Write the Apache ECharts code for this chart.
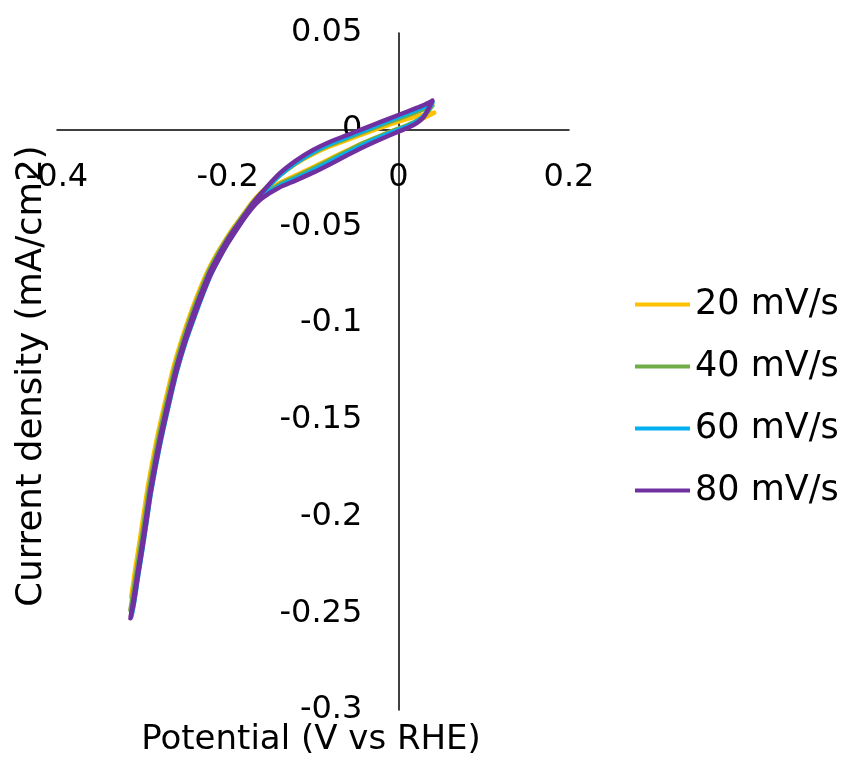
<!DOCTYPE html>
<html>
<head>
<meta charset="utf-8">
<script src="https://cdn.jsdelivr.net/npm/echarts@6/dist/echarts.min.js"></script>
<style>
html,body{margin:0;padding:0;background:#fff;}
#chart{width:841px;height:760px;}
</style>
</head>
<body>
<div id="chart"></div>
<script>
const seriesNames = ['20 mV/s', '40 mV/s', '60 mV/s', '80 mV/s'];
const seriesColors = ['#FFC000', '#70AD47', '#00B0F0', '#7030A0'];
const xTitle = 'Potential (V vs RHE)';
const yTitle = 'Current density (mA/cm2)';

// [potential (V), current density (mA/cm2)] — cathodic sweep then anodic return
const cv20 = [
  [0.042, 0.0088], [0.030, 0.0060], [0.020, 0.0038], [0.010, 0.0020], [0.000, 0.0004],
  [-0.020, -0.0030], [-0.040, -0.0066], [-0.060, -0.0107], [-0.080, -0.0150], [-0.100, -0.0194],
  [-0.120, -0.0236], [-0.140, -0.0278], [-0.161, -0.0340], [-0.172, -0.0385], [-0.182, -0.0440],
  [-0.1925, -0.0505], [-0.2025, -0.0575], [-0.213, -0.0652], [-0.223, -0.0738], [-0.2335, -0.0845],
  [-0.2435, -0.0962], [-0.2535, -0.1088], [-0.2635, -0.1238], [-0.2735, -0.1423], [-0.2835, -0.1623],
  [-0.2935, -0.1858], [-0.2985, -0.2006], [-0.3035, -0.2151], [-0.3085, -0.2288], [-0.313, -0.2417],
  [-0.3085, -0.2276], [-0.3035, -0.2137], [-0.2985, -0.1990], [-0.2935, -0.1845], [-0.2835, -0.1610],
  [-0.2735, -0.1412], [-0.2635, -0.1228], [-0.2535, -0.1080], [-0.2435, -0.0950], [-0.2335, -0.0834],
  [-0.223, -0.0728], [-0.213, -0.0645], [-0.2025, -0.0568], [-0.1925, -0.0502], [-0.182, -0.0440],
  [-0.172, -0.0378], [-0.161, -0.0325], [-0.140, -0.0240], [-0.120, -0.0175], [-0.100, -0.0125],
  [-0.080, -0.0085], [-0.060, -0.0052], [-0.040, -0.0020], [-0.020, 0.0012], [0.000, 0.0042],
  [0.020, 0.0068], [0.030, 0.0078], [0.042, 0.0088]
];
const cv40 = [
  [0.040, 0.0125], [0.030, 0.0070], [0.020, 0.0042], [0.010, 0.0022], [0.000, 0.0005],
  [-0.020, -0.0030], [-0.040, -0.0068], [-0.060, -0.0111], [-0.080, -0.0156], [-0.100, -0.0200],
  [-0.120, -0.0243], [-0.140, -0.0285], [-0.1605, -0.0345], [-0.171, -0.0390], [-0.181, -0.0447],
  [-0.191, -0.0513], [-0.201, -0.0582], [-0.2113, -0.0660], [-0.2213, -0.0745], [-0.2315, -0.0852],
  [-0.2415, -0.0970], [-0.2515, -0.1095], [-0.2615, -0.1245], [-0.2715, -0.1430], [-0.2815, -0.1630],
  [-0.2915, -0.1865], [-0.2965, -0.2013], [-0.3015, -0.2158], [-0.3065, -0.2295], [-0.3115, -0.2440],
  [-0.314, -0.2484],
  [-0.3115, -0.2415], [-0.3065, -0.2271], [-0.3015, -0.2132], [-0.2965, -0.1985], [-0.2915, -0.1840],
  [-0.2815, -0.1605], [-0.2715, -0.1407], [-0.2615, -0.1223], [-0.2515, -0.1075], [-0.2415, -0.0945],
  [-0.2315, -0.0830], [-0.2213, -0.0724], [-0.2113, -0.0641], [-0.201, -0.0565], [-0.191, -0.0500],
  [-0.181, -0.0438], [-0.171, -0.0378], [-0.1605, -0.0327], [-0.140, -0.0240], [-0.120, -0.0173],
  [-0.100, -0.0120], [-0.080, -0.0078], [-0.060, -0.0044], [-0.040, -0.0010], [-0.020, 0.0024],
  [0.000, 0.0056], [0.020, 0.0090], [0.030, 0.0106], [0.040, 0.0125]
];
const cv60 = [
  [0.040, 0.0140], [0.030, 0.0072], [0.020, 0.0038], [0.010, 0.0016], [0.000, -0.0001],
  [-0.020, -0.0037], [-0.040, -0.0076], [-0.060, -0.0120], [-0.080, -0.0166], [-0.100, -0.0211],
  [-0.120, -0.0253], [-0.140, -0.0293], [-0.160, -0.0350], [-0.170, -0.0394], [-0.180, -0.0452],
  [-0.190, -0.0518], [-0.200, -0.0588], [-0.210, -0.0666], [-0.220, -0.0753], [-0.230, -0.0862],
  [-0.240, -0.0982], [-0.250, -0.1108], [-0.260, -0.1258], [-0.270, -0.1444], [-0.280, -0.1645],
  [-0.290, -0.1880], [-0.295, -0.2028], [-0.300, -0.2173], [-0.305, -0.2310], [-0.310, -0.2455],
  [-0.313, -0.2520],
  [-0.310, -0.2432], [-0.305, -0.2288], [-0.300, -0.2148], [-0.295, -0.2000], [-0.290, -0.1855],
  [-0.280, -0.1620], [-0.270, -0.1420], [-0.260, -0.1236], [-0.250, -0.1088], [-0.240, -0.0957],
  [-0.230, -0.0840], [-0.220, -0.0734], [-0.210, -0.0650], [-0.200, -0.0573], [-0.190, -0.0507],
  [-0.180, -0.0446], [-0.170, -0.0385], [-0.160, -0.0333], [-0.140, -0.0240], [-0.120, -0.0170],
  [-0.100, -0.0115], [-0.080, -0.0072], [-0.060, -0.0038], [-0.040, -0.0003], [-0.020, 0.0032],
  [0.000, 0.0066], [0.020, 0.0100], [0.030, 0.0118], [0.040, 0.0140]
];
const cv80 = [
  [0.040, 0.0150], [0.030, 0.0068], [0.020, 0.0030], [0.010, 0.0008], [0.000, -0.0010],
  [-0.020, -0.0048], [-0.040, -0.0088], [-0.060, -0.0132], [-0.080, -0.0178], [-0.100, -0.0222],
  [-0.120, -0.0262], [-0.140, -0.0300], [-0.160, -0.0355], [-0.170, -0.0398], [-0.180, -0.0455],
  [-0.190, -0.0520], [-0.200, -0.0588], [-0.210, -0.0665], [-0.220, -0.0750], [-0.230, -0.0857],
  [-0.240, -0.0975], [-0.250, -0.1100], [-0.260, -0.1250], [-0.270, -0.1435], [-0.280, -0.1635],
  [-0.290, -0.1870], [-0.295, -0.2018], [-0.300, -0.2163], [-0.305, -0.2300], [-0.310, -0.2445],
  [-0.314, -0.2526],
  [-0.310, -0.2420], [-0.305, -0.2276], [-0.300, -0.2137], [-0.295, -0.1990], [-0.290, -0.1845],
  [-0.280, -0.1610], [-0.270, -0.1412], [-0.260, -0.1228], [-0.250, -0.1080], [-0.240, -0.0950],
  [-0.230, -0.0834], [-0.220, -0.0728], [-0.210, -0.0645], [-0.200, -0.0568], [-0.190, -0.0502],
  [-0.180, -0.0440], [-0.170, -0.0378], [-0.160, -0.0325], [-0.140, -0.0230], [-0.120, -0.0160],
  [-0.100, -0.0105], [-0.080, -0.0062], [-0.060, -0.0028], [-0.040, 0.0007], [-0.020, 0.0042],
  [0.000, 0.0076], [0.020, 0.0110], [0.030, 0.0128], [0.040, 0.0150]
];
const seriesData = [cv20, cv40, cv60, cv80];

const FONT = 'DejaVu Sans';
const X_MIN = -0.4, X_MAX = 0.2, Y_MIN = -0.3, Y_MAX = 0.05;
const G = {left: 57, right: 272, top: 33, bottom: 50, w: 841, h: 760};
const plotW = G.w - G.left - G.right, plotH = G.h - G.top - G.bottom;
// move the axes so that they cross at zero
const xOffset = -plotH * (0 - Y_MIN) / (Y_MAX - Y_MIN);
const yOffset = -plotW * (0 - X_MIN) / (X_MAX - X_MIN);

const chart = echarts.init(document.getElementById('chart'), null, {renderer: 'canvas'});
const fmt = v => String(+v.toFixed(2));

chart.setOption({
  animation: false,
  backgroundColor: '#ffffff',
  textStyle: {fontFamily: FONT},
  grid: {left: G.left, right: G.right, top: G.top, bottom: G.bottom, containLabel: false, outerBoundsMode: 'none'},
  xAxis: {
    type: 'value', min: X_MIN, max: X_MAX, interval: 0.2, position: 'bottom', offset: xOffset,
    axisLine: {show: true, onZero: false, lineStyle: {color: '#000', width: 1.5}},
    axisTick: {show: false},
    splitLine: {show: false},
    axisLabel: {margin: 32, fontSize: 32, color: '#000', fontFamily: FONT, formatter: fmt, showMinLabel: true, showMaxLabel: true}
  },
  yAxis: {
    type: 'value', min: Y_MIN, max: Y_MAX, interval: 0.05, position: 'left', offset: yOffset,
    axisLine: {show: true, onZero: false, lineStyle: {color: '#000', width: 1.5}},
    axisTick: {show: false},
    splitLine: {show: false},
    axisLabel: {margin: 36, fontSize: 32, color: '#000', fontFamily: FONT, formatter: fmt, showMinLabel: true, showMaxLabel: true}
  },
  legend: {
    orient: 'vertical', left: 635, top: 287, padding: 0,
    itemWidth: 55, itemHeight: 4, itemGap: 27,
    icon: 'rect',
    textStyle: {fontSize: 35, color: '#000', fontFamily: FONT, padding: 0},
    data: seriesNames
  },
  graphic: [
    {type: 'text', x: 311, y: 740, style: {text: xTitle, fontSize: 34, fontFamily: FONT, fill: '#000', align: 'center', verticalAlign: 'middle'}},
    {type: 'text', x: 32, y: 376, rotation: Math.PI / 2, style: {text: yTitle, fontSize: 35.5, fontFamily: FONT, fill: '#000', align: 'center', verticalAlign: 'middle'}}
  ],
  series: seriesNames.map((n, i) => ({
    name: n, type: 'line', data: seriesData[i],
    showSymbol: false, symbol: 'none', smooth: 0.25,
    color: seriesColors[i],
    lineStyle: {width: 4.5, color: seriesColors[i], cap: 'round', join: 'round'}
  }))
});
</script>
</body>
</html>
